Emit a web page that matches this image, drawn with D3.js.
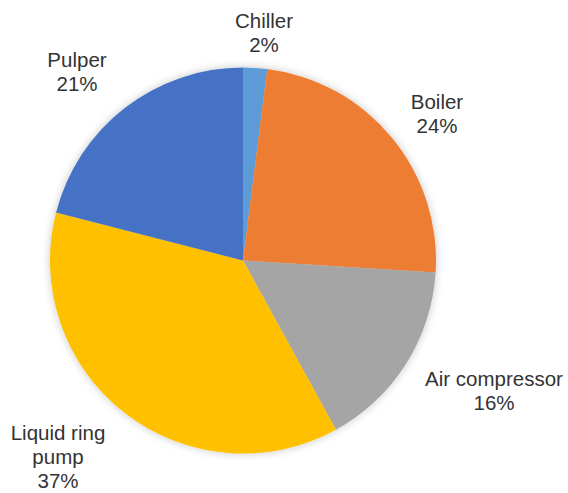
<!DOCTYPE html>
<html>
<head>
<meta charset="utf-8">
<script src="https://cdn.jsdelivr.net/npm/d3@7"></script>
<style>
  html, body { margin: 0; padding: 0; background: #fff; }
  svg { display: block; }
  text { font-family: "Liberation Sans", Arial, sans-serif; fill: #333333; }
</style>
</head>
<body>
<script>
// Energy share by equipment
const categories = ["Chiller", "Boiler", "Air compressor", "Liquid ring pump", "Pulper"];
const values = [2, 24, 16, 37, 21];
const colors = ["#5B9BD5", "#ED7D31", "#A5A5A5", "#FFC000", "#4472C4"];
// label lines (category name may wrap)
const labelLines = [["Chiller"], ["Boiler"], ["Air compressor"], ["Liquid ring", "pump"], ["Pulper"]];
// label anchor positions around the pie
const labelPos = [[264, 23], [437, 104], [494, 381], [58, 435], [77, 62]];

const W = 568, H = 493;
const cx = 243, cy = 260.5, R = 193;

const svg = d3.select("body").append("svg").attr("width", W).attr("height", H);

const defs = svg.append("defs");
const f = defs.append("filter").attr("id", "soft").attr("x", "-20%").attr("y", "-20%").attr("width", "140%").attr("height", "140%");
f.append("feGaussianBlur").attr("in", "SourceAlpha").attr("stdDeviation", 4).attr("result", "b");
f.append("feFlood").attr("flood-color", "#000").attr("flood-opacity", 0.22);
f.append("feComposite").attr("in2", "b").attr("operator", "in").attr("result", "s");
const m = f.append("feMerge");
m.append("feMergeNode").attr("in", "s");
m.append("feMergeNode").attr("in", "SourceGraphic");

const data = categories.map((c, i) => ({ name: c, value: values[i], i }));
const pie = d3.pie().value(d => d.value).sort(null);
const arc = d3.arc().innerRadius(0).outerRadius(R);

const g = svg.append("g").attr("transform", `translate(${cx},${cy})`).attr("filter", "url(#soft)");
g.selectAll("path").data(pie(data)).join("path")
  .attr("d", arc)
  .attr("fill", d => colors[d.data.i]);

const total = d3.sum(values);
const labels = svg.append("g");
data.forEach((d, i) => {
  const lines = labelLines[i].concat([Math.round(d.value / total * 100) + "%"]);
  const t = labels.append("text")
    .attr("x", labelPos[i][0]).attr("y", labelPos[i][1])
    .attr("text-anchor", "middle")
    .attr("dominant-baseline", "middle")
    .attr("font-size", 20.5);
  lines.forEach((ln, k) => {
    t.append("tspan").attr("x", labelPos[i][0]).attr("dy", k === 0 ? 0 : 24).text(ln);
  });
});
</script>
</body>
</html>
